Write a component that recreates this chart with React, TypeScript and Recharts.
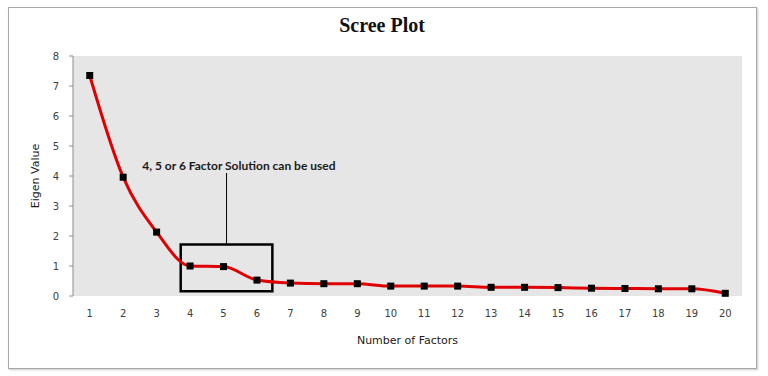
import {
  LineChart,
  Line,
  XAxis,
  YAxis,
  CartesianGrid,
  ReferenceArea,
  ReferenceLine,
  ReferenceDot,
} from "recharts"

const factors = [1, 2, 3, 4, 5, 6, 7, 8, 9, 10, 11, 12, 13, 14, 15, 16, 17, 18, 19, 20]
const eigenValues = [
  7.35, 3.96, 2.13, 1.0, 0.98, 0.53, 0.43, 0.41, 0.41, 0.33, 0.33, 0.33, 0.29, 0.29, 0.28, 0.26, 0.25,
  0.24, 0.24, 0.09,
]
const yTicks = [0, 1, 2, 3, 4, 5, 6, 7, 8]
const edgeTicks = [
  0.5, 1.5, 2.5, 3.5, 4.5, 5.5, 6.5, 7.5, 8.5, 9.5, 10.5, 11.5, 12.5, 13.5, 14.5, 15.5, 16.5, 17.5, 18.5,
  19.5, 20.5,
]

// annotation box around factors 4-6
const boxX = [3.72, 6.46]
const boxY = [0.16, 1.72]
const calloutX = 5.09
const calloutTop = 4.1
const noteAt = { x: 5.46, y: 4.35 }
const noteText = "4, 5 or 6 Factor Solution can be used"

const data = factors.map((f, i) => ({ factor: f, eigen: eigenValues[i] }))

const tickFont = { fontSize: 10, fill: "#404040", fontFamily: "DejaVu Sans" }

const Square = (props: any) => {
  const { cx, cy } = props
  if (cx == null || cy == null) return null
  return <rect x={cx - 3.5} y={cy - 3.5} width={7} height={7} fill="#000" />
}

export default function App() {
  return (
    <div style={{ position: "absolute", left: 0, top: 0, width: 768, height: 376, background: "#fff" }}>
      <div
        style={{
          position: "absolute",
          left: 8,
          top: 7,
          width: 747,
          height: 360,
          border: "1px solid #a8a8a8",
          boxShadow: "1px 1px 2px #c8c8c8",
        }}
      />
      <div
        style={{
          position: "absolute",
          left: 0,
          top: 14,
          width: 764,
          textAlign: "center",
          fontFamily: "Liberation Serif",
          fontWeight: "bold",
          fontSize: 20,
          color: "#111",
        }}
      >
        Scree Plot
      </div>
      <div style={{ position: "absolute", left: 0, top: 0 }}>
        <LineChart width={768} height={376} data={data} margin={{ top: 56, right: 26, left: 33, bottom: 50 }}>
          <CartesianGrid fill="#e6e6e6" horizontal={false} vertical={false} />
          <XAxis
            xAxisId={0}
            type="number"
            dataKey="factor"
            domain={[0.5, 20.5]}
            ticks={edgeTicks}
            height={0}
            tick={() => <g />}
            tickSize={5}
            stroke="#8c8c8c"
            axisLine={{ stroke: "#8c8c8c" }}
          />
          <XAxis
            xAxisId="labels"
            type="number"
            dataKey="factor"
            domain={[0.5, 20.5]}
            ticks={factors}
            height={30}
            axisLine={false}
            tickLine={false}
            tickMargin={8}
            tick={tickFont}
            interval={0}
            label={{
              value: "Number of Factors",
              position: "bottom",
              offset: 10,
              style: { fontSize: 11, fill: "#202020", fontFamily: "DejaVu Sans" },
            }}
          />
          <YAxis
            domain={[0, 8]}
            ticks={yTicks}
            width={40}
            tickSize={4}
            tickMargin={10}
            tick={tickFont}
            stroke="#8c8c8c"
            interval={0}
            label={{
              value: "Eigen Value",
              angle: -90,
              position: "insideLeft",
              offset: 2,
              style: { textAnchor: "middle", fontSize: 11, fill: "#202020", fontFamily: "DejaVu Sans" },
            }}
          />
          <ReferenceArea
            x1={boxX[0]}
            x2={boxX[1]}
            y1={boxY[0]}
            y2={boxY[1]}
            fill="none"
            stroke="#000"
            strokeWidth={2.5}
            ifOverflow="visible"
          />
          <ReferenceLine
            segment={[
              { x: calloutX, y: boxY[1] },
              { x: calloutX, y: calloutTop },
            ]}
            stroke="#000"
            strokeWidth={1}
          />
          <ReferenceDot
            x={noteAt.x}
            y={noteAt.y}
            r={0}
            fill="none"
            stroke="none"
            label={{
              value: noteText,
              position: "center",
              style: { fontSize: 12, fontWeight: "bold", fill: "#1a1a1a", fontFamily: "Lato" },
            }}
          />
          <Line
            xAxisId="labels"
            type="monotone"
            dataKey="eigen"
            stroke="#e00000"
            strokeWidth={3}
            dot={<Square />}
            activeDot={false}
            isAnimationActive={false}
          />
        </LineChart>
      </div>
    </div>
  )
}
